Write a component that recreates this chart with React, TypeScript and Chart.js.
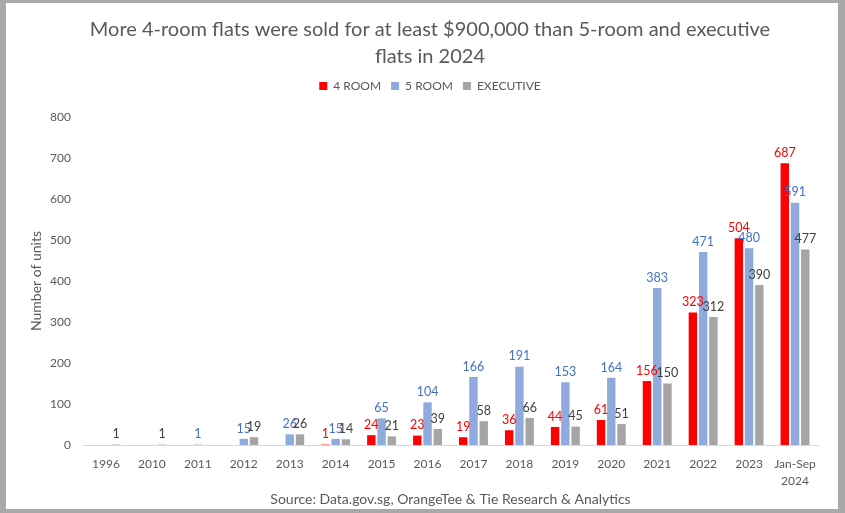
import React, { useEffect, useRef } from 'react';
import { Chart, registerables, layouts } from 'chart.js';

Chart.register(...registerables);

const FONT = 'Lato, "Liberation Sans", sans-serif';

const titleLines = ['More 4-room flats were sold for at least $900,000 than 5-room and executive', 'flats in 2024'];
const categories: (string | string[])[] = ['1996', '2010', '2011', '2012', '2013', '2014', '2015', '2016', '2017', '2018', '2019', '2020', '2021', '2022', '2023', ['Jan-Sep', '2024']];
const seriesNames = ['4 ROOM', '5 ROOM', 'EXECUTIVE'];
const room4 = [null, null, null, null, null, 1, 24, 23, 19, 36, 44, 61, 156, 323, 504, 687];
const room5 = [null, null, 1, 15, 26, 15, 65, 104, 166, 191, 153, 164, 383, 471, 480, 591];
const executive = [1, 1, null, 19, 26, 14, 21, 39, 58, 66, 45, 51, 150, 312, 390, 477];
const barColors = ['#FF0000', '#8FAADC', '#A5A5A5'];
const labelColors = ['#FF0000', '#4472C4', '#404040'];
const yMin = 0;
const yMax = 800;
const yStep = 100;
const yTitle = 'Number of units';
const sourceText = 'Source: Data.gov.sg, OrangeTee & Tie Research & Analytics';

const valueLabels = {
  id: 'valueLabels',
  afterDatasetsDraw(chart: any) {
    const ctx = chart.ctx;
    chart.data.datasets.forEach((ds: any, i: number) => {
      const meta = chart.getDatasetMeta(i);
      if (meta.hidden) return;
      meta.data.forEach((bar: any, j: number) => {
        const v = ds.data[j];
        if (v == null) return;
        ctx.save();
        ctx.font = `12.5px ${FONT}`;
        ctx.fillStyle = labelColors[i];
        ctx.textAlign = 'center';
        ctx.textBaseline = 'bottom';
        ctx.fillText(String(v), bar.x, bar.y - 4);
        ctx.restore();
      });
    });
  },
};

const legendGap = {
  id: 'legendGap',
  beforeInit(chart: any) {
    const box: any = {
      position: 'top',
      weight: 0,
      fullSize: true,
      options: {},
      left: 0,
      top: 0,
      right: 0,
      bottom: 0,
      width: 0,
      height: 0,
      isHorizontal() {
        return true;
      },
      update(maxWidth: number) {
        this.width = maxWidth;
        this.height = 15;
      },
      draw() {},
    };
    layouts.addBox(chart, box);
  },
};

export default function App() {
  const ref = useRef<HTMLCanvasElement | null>(null);

  useEffect(() => {
    if (!ref.current) return;
    Chart.defaults.font.family = FONT;
    const chart = new Chart(ref.current, {
      type: 'bar',
      data: {
        labels: categories,
        datasets: [
          { label: seriesNames[0], data: room4, backgroundColor: barColors[0] },
          { label: seriesNames[1], data: room5, backgroundColor: barColors[1] },
          { label: seriesNames[2], data: executive, backgroundColor: barColors[2] },
        ],
      },
      options: {
        responsive: false,
        animation: false,
        devicePixelRatio: 1,
        layout: { padding: { left: 36, right: 20, top: 0, bottom: 0 } },
        datasets: { bar: { categoryPercentage: 0.67, barPercentage: 0.82 } },
        plugins: {
          title: {
            display: true,
            text: titleLines,
            color: '#595959',
            font: { size: 20, weight: 'normal', lineHeight: 27 / 20 },
            padding: { top: 13, bottom: 0 },
          },
          legend: {
            display: true,
            position: 'top',
            labels: {
              boxWidth: 8,
              boxHeight: 8,
              padding: 10,
              color: '#595959',
              font: { size: 12 },
            },
          },
          tooltip: { enabled: false },
        },
        scales: {
          x: {
            grid: { display: false, drawTicks: false },
            border: { display: true, color: '#D9D9D9', width: 1 },
            ticks: {
              autoSkip: false,
              maxRotation: 0,
              padding: 11,
              color: '#595959',
              font: { size: 12, lineHeight: 17 / 12 },
            },
            title: {
              display: true,
              text: sourceText,
              color: '#595959',
              font: { size: 14 },
              padding: { top: 0, bottom: 1 },
            },
            afterFit(scale: any) {
              scale.height = 64;
            },
          },
          y: {
            min: yMin,
            max: yMax,
            grid: { display: false, drawTicks: false },
            border: { display: false },
            ticks: { stepSize: yStep, padding: 12, color: '#595959', font: { size: 12 } },
            title: {
              display: true,
              text: yTitle,
              color: '#595959',
              font: { size: 14 },
              padding: { top: -14, bottom: 0 },
            },
            afterFit(scale: any) {
              scale.width = 41;
            },
          },
        },
      } as any,
      plugins: [valueLabels, legendGap],
    });
    return () => chart.destroy();
  }, []);

  return (
    <div style={{ position: 'fixed', left: 0, top: 0, width: 845, height: 513, background: '#a9a9a9' }}>
      <div style={{ position: 'absolute', left: 6, top: 3, width: 832, height: 506, background: '#ffffff' }}>
        <canvas ref={ref} width={832} height={506} style={{ display: 'block', width: 832, height: 506 }} />
      </div>
    </div>
  );
}
